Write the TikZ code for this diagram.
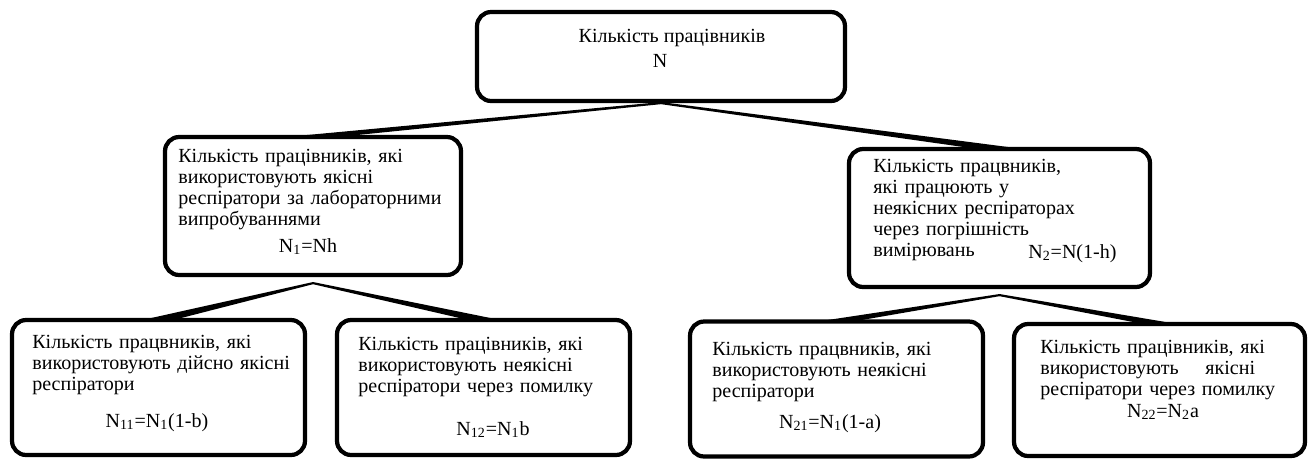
\documentclass[tikz,border=0pt]{standalone}
\usepackage{fontspec}
\setmainfont{Liberation Serif}
\usetikzlibrary{calc}

\begin{document}
\begin{tikzpicture}[x=0.02cm,y=-0.02cm,
    box/.style={draw,line width=2.4pt,rounded corners=8pt,inner sep=0pt,
      minimum width=5.86cm,minimum height=2.7cm},
    txt/.style={anchor=base west,inner sep=0pt,align=left,text width=6cm,
      font=\fontsize{11.4}{12}\selectfont},
    frm/.style={anchor=base,inner sep=0pt,font=\fontsize{11.4}{12}\selectfont},
    wedge/.style={fill=black,draw=black,line width=1.2pt,line join=round}]
    \useasboundingbox (0,0) rectangle (1310,461);

    % boxes
    \node[box,minimum width=7.36cm,minimum height=1.78cm] (all) at (661,56.5) {};
    \node[box,minimum width=5.92cm,minimum height=2.76cm] (good) at (313,206) {};
    \node[box,minimum width=6.02cm,minimum height=2.76cm] (bad) at (999.5,218) {};
    \node[box] (g1) at (158.5,387.5) {};
    \node[box] (g2) at (483.5,387.5) {};
    \node[box] (b1) at (836.5,389) {};
    \node[box,minimum width=5.82cm,minimum height=2.64cm] (b2) at (1159.5,390) {};

    % texts
    \node[frm] (allt) at (672,42) {Кількість працівників};
    \node[frm] (alln) at (660,67) {N};

    \node[txt] (goodt) at (178,162) {Кількість працівників, які\\використовують якісні\\респіратори за лабораторними\\випробуваннями};
    \node[frm] (goodn) at (308,252) {N\textsubscript{1}=Nh};

    \node[txt] (badt) at (873,172) {Кількість працвників,\\які працюють у\\неякісних респіраторах\\через погрішність\\вимірювань};
    \node[frm,anchor=base west] (badn) at (1028,258) {N\textsubscript{2}=N(1-h)};

    \node[txt] (g1t) at (32,348) {Кількість працвників, які\\використовують дійсно якісні\\респіратори};
    \node[frm] (g1n) at (157,427) {N\textsubscript{11}=N\textsubscript{1}(1-b)};

    \node[txt] (g2t) at (358,350) {Кількість працівників, які\\використовують неякісні\\респіратори через помилку};
    \node[frm] (g2n) at (493,435) {N\textsubscript{12}=N\textsubscript{1}b};

    \node[txt] (b1t) at (712,355) {Кількість працвників, які\\використовують неякісні\\респіратори};
    \node[frm] (b1n) at (830,428) {N\textsubscript{21}=N\textsubscript{1}(1-a)};

    \node[txt] (b2t) at (1040,353) {Кількість працівників, які\\використовують \quad якісні\\респіратори через помилку};
    \node[frm] (b2n) at (1163,417) {N\textsubscript{22}=N\textsubscript{2}a};

    % wedges
    \fill[wedge] (all.south) -- ($(good.north)+(-15,2)$) -- ($(good.north)+(15,2)$) -- cycle;
    \fill[wedge] (all.south) -- ($(bad.north)+(-15,2)$) -- ($(bad.north)+(15,2)$) -- cycle;
    \foreach \p/\c in {good/g1,good/g2,bad/b1,bad/b2}
      \fill[wedge] ($(\p.south)+(0,6)$) -- ($(\c.north)+(-11,2)$) -- ($(\c.north)+(11,2)$) -- cycle;
\end{tikzpicture}
\end{document}
